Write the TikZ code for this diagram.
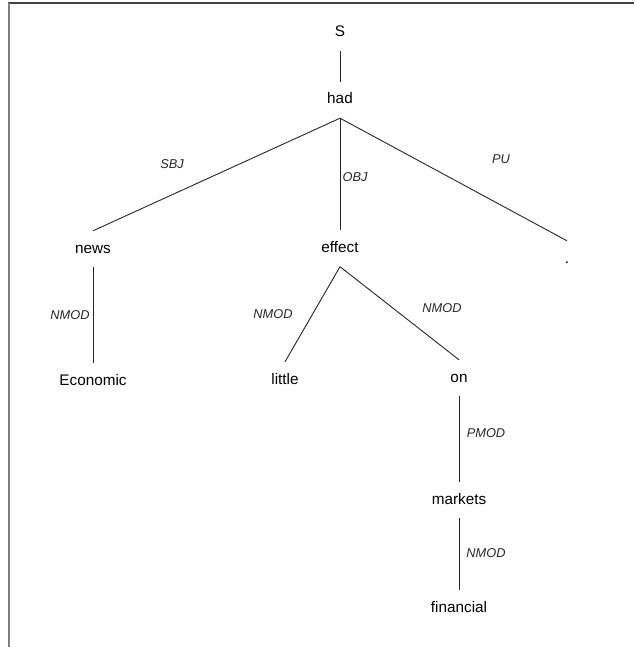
\documentclass[tikz,border=0pt]{standalone}
\usepackage{fontspec}
\setmainfont{Liberation Sans}
\begin{document}
\begin{tikzpicture}[x=1pt,y=-1pt,
  word/.style={inner sep=0pt,minimum height=36pt,text height=11pt,text depth=3pt,
    font=\fontsize{15.3}{18}\selectfont},
  rel/.style={inner sep=0pt,font=\fontsize{12.8}{15}\selectfont\itshape,text=black!85},
  dep/.style={draw=black!85,line width=0.9pt}]
\useasboundingbox (0,0) rectangle (634,647);
% frame
\draw[black!75,line width=1.4pt] (8,3) -- (634,3);
\draw[black!50,line width=1.8pt] (9,3) -- (9,647);
% words
\node[word] (S) at (340,33) {S};
\node[word] (had) at (340,100) {had};
\node[word] (news) at (93,249) {news};
\node[word] (effect) at (340,248.5) {effect};
\node[word] (pu) at (567,259) {.};
\node[word] (econ) at (93,381) {Economic};
\node[word] (little) at (285,380) {little};
\node[word] (on) at (459,378) {on};
\node[word] (markets) at (459,500) {markets};
\node[word] (fin) at (459,608) {financial};
% dependencies
\draw[dep] (S.south) -- (had.north);
\draw[dep] (had.south) -- (news.north);
\draw[dep] (had.south) -- (effect.north);
\draw[dep] (had.south) -- (pu.north);
\draw[dep] (news.south) -- (econ.north);
\draw[dep] (effect.south) -- (little.north);
\draw[dep] (effect.south) -- (on.north);
\draw[dep] (on.south) -- (markets.north);
\draw[dep] (markets.south) -- (fin.north);
% relation labels
\node[rel] (lsbj) at (172,164) {SBJ};
\node[rel] (lobj) at (355,177) {OBJ};
\node[rel] (lpu) at (501,159) {PU};
\node[rel] (lnm1) at (70,315) {NMOD};
\node[rel] (lnm2) at (273,314) {NMOD};
\node[rel] (lnm3) at (442,308) {NMOD};
\node[rel] (lpmod) at (486,433) {PMOD};
\node[rel] (lnm4) at (486,553) {NMOD};
\end{tikzpicture}
\end{document}
